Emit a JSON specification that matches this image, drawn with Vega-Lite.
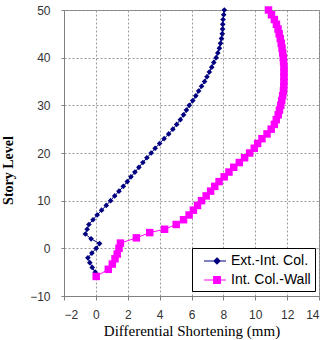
{
  "$schema": "https://vega.github.io/schema/vega-lite/v6.json",
  "width": 255,
  "height": 286,
  "autosize": "none",
  "padding": {"left": 64, "top": 10, "right": 7, "bottom": 44},
  "background": "white",
  "config": {
    "view": {"stroke": "#808080", "strokeWidth": 1},
    "axis": {
      "labelFont": "Liberation Sans",
      "labelFontSize": 12,
      "labelColor": "#333333",
      "titleFont": "Liberation Serif",
      "titleFontSize": 14,
      "titleFontWeight": "bold",
      "titleColor": "#000000",
      "domainColor": "#808080",
      "tickColor": "#808080",
      "gridColor": "#9a9a9a",
      "gridDash": [2, 2],
      "gridWidth": 1
    },
    "legend": {
      "orient": "none",
      "legendX": 128,
      "legendY": 238,
      "strokeColor": "#000000",
      "fillColor": "#ffffff",
      "padding": 4,
      "symbolSize": 256,
      "symbolStrokeWidth": 1.2,
      "symbolOpacity": 1,
      "labelFont": "Liberation Sans",
      "labelFontSize": 14,
      "labelColor": "#000000",
      "labelOffset": 17,
      "rowPadding": 3
    }
  },
  "data": {
    "values": [
      {"series": "Ext.-Int. Col.", "level": 50, "shortening": 8.06},
      {"series": "Ext.-Int. Col.", "level": 49, "shortening": 8.02},
      {"series": "Ext.-Int. Col.", "level": 48, "shortening": 7.98},
      {"series": "Ext.-Int. Col.", "level": 47, "shortening": 7.96},
      {"series": "Ext.-Int. Col.", "level": 46, "shortening": 7.95},
      {"series": "Ext.-Int. Col.", "level": 45, "shortening": 7.93},
      {"series": "Ext.-Int. Col.", "level": 44, "shortening": 7.88},
      {"series": "Ext.-Int. Col.", "level": 43, "shortening": 7.82},
      {"series": "Ext.-Int. Col.", "level": 42, "shortening": 7.75},
      {"series": "Ext.-Int. Col.", "level": 41, "shortening": 7.65},
      {"series": "Ext.-Int. Col.", "level": 40, "shortening": 7.55},
      {"series": "Ext.-Int. Col.", "level": 39, "shortening": 7.4},
      {"series": "Ext.-Int. Col.", "level": 38, "shortening": 7.27},
      {"series": "Ext.-Int. Col.", "level": 37, "shortening": 7.12},
      {"series": "Ext.-Int. Col.", "level": 36, "shortening": 6.97},
      {"series": "Ext.-Int. Col.", "level": 35, "shortening": 6.82},
      {"series": "Ext.-Int. Col.", "level": 34, "shortening": 6.63},
      {"series": "Ext.-Int. Col.", "level": 33, "shortening": 6.45},
      {"series": "Ext.-Int. Col.", "level": 32, "shortening": 6.27},
      {"series": "Ext.-Int. Col.", "level": 31, "shortening": 6.08},
      {"series": "Ext.-Int. Col.", "level": 30, "shortening": 5.86},
      {"series": "Ext.-Int. Col.", "level": 29, "shortening": 5.68},
      {"series": "Ext.-Int. Col.", "level": 28, "shortening": 5.5},
      {"series": "Ext.-Int. Col.", "level": 27, "shortening": 5.3},
      {"series": "Ext.-Int. Col.", "level": 26, "shortening": 5.07},
      {"series": "Ext.-Int. Col.", "level": 25, "shortening": 4.83},
      {"series": "Ext.-Int. Col.", "level": 24, "shortening": 4.57},
      {"series": "Ext.-Int. Col.", "level": 23, "shortening": 4.28},
      {"series": "Ext.-Int. Col.", "level": 22, "shortening": 4.0},
      {"series": "Ext.-Int. Col.", "level": 21, "shortening": 3.72},
      {"series": "Ext.-Int. Col.", "level": 20, "shortening": 3.47},
      {"series": "Ext.-Int. Col.", "level": 19, "shortening": 3.2},
      {"series": "Ext.-Int. Col.", "level": 18, "shortening": 2.95},
      {"series": "Ext.-Int. Col.", "level": 17, "shortening": 2.7},
      {"series": "Ext.-Int. Col.", "level": 16, "shortening": 2.45},
      {"series": "Ext.-Int. Col.", "level": 15, "shortening": 2.2},
      {"series": "Ext.-Int. Col.", "level": 14, "shortening": 1.97},
      {"series": "Ext.-Int. Col.", "level": 13, "shortening": 1.72},
      {"series": "Ext.-Int. Col.", "level": 12, "shortening": 1.45},
      {"series": "Ext.-Int. Col.", "level": 11, "shortening": 1.18},
      {"series": "Ext.-Int. Col.", "level": 10, "shortening": 0.92},
      {"series": "Ext.-Int. Col.", "level": 9, "shortening": 0.65},
      {"series": "Ext.-Int. Col.", "level": 8, "shortening": 0.36},
      {"series": "Ext.-Int. Col.", "level": 7, "shortening": 0.08},
      {"series": "Ext.-Int. Col.", "level": 6, "shortening": -0.18},
      {"series": "Ext.-Int. Col.", "level": 5, "shortening": -0.44},
      {"series": "Ext.-Int. Col.", "level": 4, "shortening": -0.55},
      {"series": "Ext.-Int. Col.", "level": 3, "shortening": -0.66},
      {"series": "Ext.-Int. Col.", "level": 2, "shortening": -0.3},
      {"series": "Ext.-Int. Col.", "level": 1, "shortening": 0.23},
      {"series": "Ext.-Int. Col.", "level": 0, "shortening": 0.02},
      {"series": "Ext.-Int. Col.", "level": -1, "shortening": -0.25},
      {"series": "Ext.-Int. Col.", "level": -2, "shortening": -0.5},
      {"series": "Ext.-Int. Col.", "level": -3, "shortening": -0.38},
      {"series": "Ext.-Int. Col.", "level": -4, "shortening": -0.23},
      {"series": "Ext.-Int. Col.", "level": -5, "shortening": -0.04},
      {"series": "Int. Col.-Wall", "level": 50, "shortening": 10.83},
      {"series": "Int. Col.-Wall", "level": 49, "shortening": 11.02},
      {"series": "Int. Col.-Wall", "level": 48, "shortening": 11.2},
      {"series": "Int. Col.-Wall", "level": 47, "shortening": 11.33},
      {"series": "Int. Col.-Wall", "level": 46, "shortening": 11.43},
      {"series": "Int. Col.-Wall", "level": 45, "shortening": 11.5},
      {"series": "Int. Col.-Wall", "level": 44, "shortening": 11.57},
      {"series": "Int. Col.-Wall", "level": 43, "shortening": 11.63},
      {"series": "Int. Col.-Wall", "level": 42, "shortening": 11.68},
      {"series": "Int. Col.-Wall", "level": 41, "shortening": 11.72},
      {"series": "Int. Col.-Wall", "level": 40, "shortening": 11.76},
      {"series": "Int. Col.-Wall", "level": 39, "shortening": 11.78},
      {"series": "Int. Col.-Wall", "level": 38, "shortening": 11.8},
      {"series": "Int. Col.-Wall", "level": 37, "shortening": 11.8},
      {"series": "Int. Col.-Wall", "level": 36, "shortening": 11.8},
      {"series": "Int. Col.-Wall", "level": 35, "shortening": 11.8},
      {"series": "Int. Col.-Wall", "level": 34, "shortening": 11.79},
      {"series": "Int. Col.-Wall", "level": 33, "shortening": 11.77},
      {"series": "Int. Col.-Wall", "level": 32, "shortening": 11.72},
      {"series": "Int. Col.-Wall", "level": 31, "shortening": 11.66},
      {"series": "Int. Col.-Wall", "level": 30, "shortening": 11.6},
      {"series": "Int. Col.-Wall", "level": 29, "shortening": 11.52},
      {"series": "Int. Col.-Wall", "level": 28, "shortening": 11.44},
      {"series": "Int. Col.-Wall", "level": 27, "shortening": 11.32},
      {"series": "Int. Col.-Wall", "level": 26, "shortening": 11.2},
      {"series": "Int. Col.-Wall", "level": 25, "shortening": 11.0},
      {"series": "Int. Col.-Wall", "level": 24, "shortening": 10.74},
      {"series": "Int. Col.-Wall", "level": 23, "shortening": 10.42},
      {"series": "Int. Col.-Wall", "level": 22, "shortening": 10.15},
      {"series": "Int. Col.-Wall", "level": 21, "shortening": 9.94},
      {"series": "Int. Col.-Wall", "level": 20, "shortening": 9.65},
      {"series": "Int. Col.-Wall", "level": 19, "shortening": 9.33},
      {"series": "Int. Col.-Wall", "level": 18, "shortening": 9.0},
      {"series": "Int. Col.-Wall", "level": 17, "shortening": 8.65},
      {"series": "Int. Col.-Wall", "level": 16, "shortening": 8.35},
      {"series": "Int. Col.-Wall", "level": 15, "shortening": 8.05},
      {"series": "Int. Col.-Wall", "level": 14, "shortening": 7.73},
      {"series": "Int. Col.-Wall", "level": 13, "shortening": 7.46},
      {"series": "Int. Col.-Wall", "level": 12, "shortening": 7.2},
      {"series": "Int. Col.-Wall", "level": 11, "shortening": 6.92},
      {"series": "Int. Col.-Wall", "level": 10, "shortening": 6.63},
      {"series": "Int. Col.-Wall", "level": 9, "shortening": 6.38},
      {"series": "Int. Col.-Wall", "level": 8, "shortening": 6.12},
      {"series": "Int. Col.-Wall", "level": 7, "shortening": 5.85},
      {"series": "Int. Col.-Wall", "level": 6, "shortening": 5.5},
      {"series": "Int. Col.-Wall", "level": 5, "shortening": 5.04},
      {"series": "Int. Col.-Wall", "level": 4, "shortening": 4.31},
      {"series": "Int. Col.-Wall", "level": 3.3, "shortening": 3.38},
      {"series": "Int. Col.-Wall", "level": 2.2, "shortening": 2.54},
      {"series": "Int. Col.-Wall", "level": 1.1, "shortening": 1.54},
      {"series": "Int. Col.-Wall", "level": 0, "shortening": 1.45},
      {"series": "Int. Col.-Wall", "level": -1.2, "shortening": 1.34},
      {"series": "Int. Col.-Wall", "level": -2.2, "shortening": 1.2},
      {"series": "Int. Col.-Wall", "level": -3.3, "shortening": 1.03},
      {"series": "Int. Col.-Wall", "level": -4.4, "shortening": 0.78},
      {"series": "Int. Col.-Wall", "level": -5.9, "shortening": 0.02}
    ]
  },
  "encoding": {
    "x": {
      "field": "shortening",
      "type": "quantitative",
      "scale": {"domain": [-2, 14], "nice": false, "zero": false},
      "axis": {
        "values": [-2, 0, 2, 4, 6, 8, 10, 12, 14],
        "title": "Differential Shortening (mm)",
        "titleFontSize": 15,
        "titleFontWeight": "normal",
        "tickSize": 4,
        "labelPadding": 9,
        "titlePadding": 3,
        "grid": true
      }
    },
    "y": {
      "field": "level",
      "type": "quantitative",
      "scale": {"domain": [-10, 50], "nice": false, "zero": false},
      "axis": {
        "values": [-10, 0, 10, 20, 30, 40, 50],
        "title": "Story Level",
        "tickSize": 3,
        "labelPadding": 11,
        "titlePadding": 14,
        "titleY": 160,
        "grid": true
      }
    },
    "order": {"field": "level", "type": "quantitative"}
  },
  "layer": [
    {
      "transform": [{"filter": "datum.series === 'Ext.-Int. Col.'"}],
      "mark": {
        "type": "line",
        "color": "#000080",
        "strokeWidth": 1,
        "point": {"shape": "diamond", "size": 32, "filled": true, "color": "#000080", "opacity": 1}
      }
    },
    {
      "transform": [{"filter": "datum.series === 'Int. Col.-Wall'"}],
      "mark": {
        "type": "line",
        "color": "#FF00FF",
        "strokeWidth": 1,
        "point": {"shape": "square", "size": 56, "filled": true, "color": "#FF00FF", "opacity": 1}
      }
    },
    {
      "mark": {"type": "point", "filled": false, "opacity": 0},
      "encoding": {
        "color": {
          "field": "series",
          "type": "nominal",
          "title": null,
          "scale": {"domain": ["Ext.-Int. Col.", "Int. Col.-Wall"], "range": ["#000080", "#FF00FF"]}
        },
        "shape": {
          "field": "series",
          "type": "nominal",
          "title": null,
          "scale": {
            "domain": ["Ext.-Int. Col.", "Int. Col.-Wall"],
            "range": [
              "M-0.125,0H2.625M1.5,-0.375L1.875,0L1.5,0.375L1.125,0ZM1.5,-0.25L1.75,0L1.5,0.25L1.25,0ZM1.5,-0.125L1.625,0L1.5,0.125L1.375,0Z",
              "M-0.125,0H2.625M1.08,-0.42H1.92V0.42H1.08ZM1.2,-0.3H1.8V0.3H1.2ZM1.32,-0.18H1.68V0.18H1.32ZM1.44,-0.06H1.56V0.06H1.44Z"
            ]
          }
        }
      }
    }
  ]
}
